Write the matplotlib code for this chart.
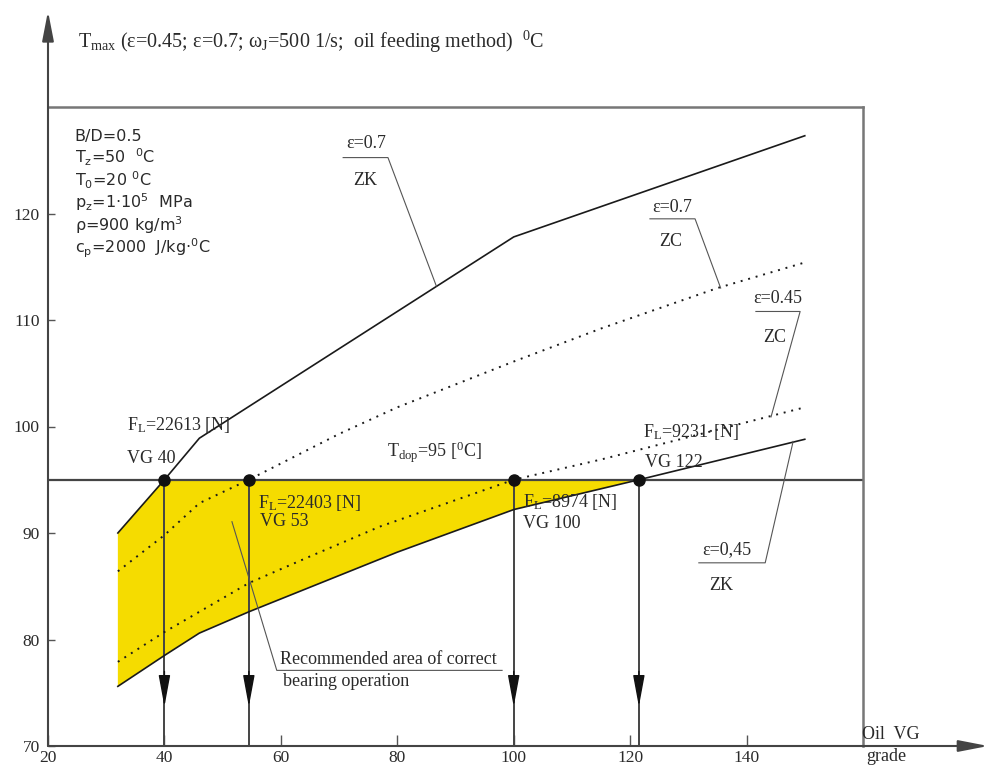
import numpy as np
import matplotlib.pyplot as plt

# oil VG grade where curves cross T_dop, and the allowed temperature
vg_x = [40, 54.5, 100, 121.5]
t_dop = 95

# eps=0.7, ZK (solid)
zk07_x = [32, 40, 46, 60, 80, 100, 120, 140, 150]
zk07_y = [90, 95, 98.9, 103.8, 110.8, 117.8, 121.6, 125.4, 127.3]
# eps=0.7, ZC (dotted)
zc07_x = [32, 40, 46, 54.5, 70, 80, 100, 115, 135, 150]
zc07_y = [86.4, 89.8, 92.8, 95.0, 99.3, 101.8, 106.1, 109.2, 113.0, 115.4]
# eps=0.45, ZC (dotted)
zc045_x = [32, 40, 46, 54.5, 65, 77, 100, 115, 135, 150]
zc045_y = [77.9, 80.7, 82.6, 85.3, 87.8, 90.6, 95.0, 96.9, 99.7, 101.8]
# eps=0.45, ZK (solid)
zk045_x = [32, 40, 46, 54.5, 80, 100, 121.5, 150]
zk045_y = [75.6, 78.5, 80.6, 82.6, 88.2, 92.2, 95.0, 98.8]

x_ticks = [20, 40, 60, 80, 100, 120, 140]
y_ticks = [70, 80, 90, 100, 110, 120]

params = ["B/D=0.5",
          r"T$\mathregular{_z}$=50  $\mathregular{^0}$C",
          r"T$\mathregular{_0}$=20 $\mathregular{^0}$C",
          r"p$\mathregular{_z}$=1·10$\mathregular{^5}$  MPa",
          r"ρ=900 kg/m$\mathregular{^3}$",
          r"c$\mathregular{_p}$=2000  J/kg·$\mathregular{^0}$C"]

serif = 'Liberation Serif'
tc = '#2a2a2a'

fig = plt.figure(figsize=(9.87, 7.67), dpi=100)
ax = fig.add_axes([48/987, 1-746/767, 815/987, 639/767])
ax.set_xlim(20, 160)
ax.set_ylim(70, 130)

# recommended area
zk07_x_a, zk07_y_a = np.array(zk07_x), np.array(zk07_y)
zk045_x_a, zk045_y_a = np.array(zk045_x), np.array(zk045_y)
m1 = zk07_x_a <= vg_x[0]
m2 = zk045_x_a <= vg_x[-1]
poly_x = list(zk07_x_a[m1]) + [vg_x[-1]] + list(zk045_x_a[m2][::-1])
poly_y = list(zk07_y_a[m1]) + [t_dop] + list(zk045_y_a[m2][::-1])
ax.fill(poly_x, poly_y, color='#f5dc00', lw=0, zorder=1)

# curves
ax.plot(zk07_x, zk07_y, color='#1a1a1a', lw=1.2, zorder=3)
ax.plot(zk045_x, zk045_y, color='#1a1a1a', lw=1.2, zorder=3)
ax.plot(zc07_x, zc07_y, color='#1a1a1a', lw=1.4, ls=(0, (1, 3)), zorder=3)
ax.plot(zc045_x, zc045_y, color='#1a1a1a', lw=1.4, ls=(0, (1, 3)), zorder=3)

# T_dop line
ax.axhline(t_dop, color='#444444', lw=1.6, zorder=2)

# vertical arrows from crossing points
for x in vg_x:
    ax.plot([x, x], [t_dop, 70], color='#444444', lw=1.4, zorder=2)
    ax.annotate('', xy=(x, 73.7), xytext=(x, 77),
                arrowprops=dict(arrowstyle='-|>,head_length=1.95,head_width=0.36',
                                color='#111111', lw=1, shrinkA=0, shrinkB=0,
                                mutation_scale=10), zorder=4)
ax.plot(vg_x, [t_dop]*len(vg_x), 'o', color='#111111', ms=8, zorder=5)

# axes with arrows
for s in ['left', 'bottom']:
    ax.spines[s].set_visible(False)
for s in ['top', 'right']:
    ax.spines[s].set_color('#777777')
    ax.spines[s].set_linewidth(1.8)
ax.annotate('', xy=(20, 139), xytext=(20, 70), annotation_clip=False,
            arrowprops=dict(arrowstyle='-|>,head_length=1.8,head_width=0.35',
                            color='#444444', lw=1.5, shrinkA=0, shrinkB=0,
                            mutation_scale=10))
ax.annotate('', xy=(181.5, 70), xytext=(20, 70), annotation_clip=False,
            arrowprops=dict(arrowstyle='-|>,head_length=1.8,head_width=0.35',
                            color='#444444', lw=1.5, shrinkA=0, shrinkB=0,
                            mutation_scale=10))

ax.set_xticks(x_ticks)
ax.set_yticks(y_ticks)
ax.tick_params(axis='x', direction='in', length=8, width=1, color='#555555',
               pad=3, labelsize=12.5, labelcolor=tc)
ax.tick_params(axis='y', direction='in', length=5, width=1, color='#555555',
               pad=6, labelsize=12.5, labelcolor=tc)
for lab in ax.get_xticklabels() + ax.get_yticklabels():
    lab.set_fontfamily(serif)

# title
fig.text(78/987, 1-42/767,
         r"T$\mathregular{_{max}}$ (ε=0.45; ε=0.7; ω$\mathregular{_J}$=500 1/s;  oil feeding method)  $\mathregular{^0}$C",
         fontsize=14.5, family=serif, color=tc, va='center')

# parameter block
for i, line in enumerate(params):
    ax.text(24.6, 126.8 - 2.1*i, line, fontsize=11.5, family='DejaVu Sans',
            color=tc, va='baseline')

# curve labels with leaders
lc = '#555555'
ax.plot([70.7, 78.4, 86.7], [125.25, 125.25, 113.2], color=lc, lw=0.8, zorder=3)
ax.text(74.6, 126.6, "ε=0.7", fontsize=13, family=serif, color=tc, ha='center', va='center')
ax.text(74.5, 123.1, "ZK", fontsize=13, family=serif, color=tc, ha='center', va='center')

ax.plot([123.4, 131.15, 135.55], [119.5, 119.5, 113.0], color=lc, lw=0.8, zorder=3)
ax.text(127.3, 120.6, "ε=0.7", fontsize=13, family=serif, color=tc, ha='center', va='center')
ax.text(126.9, 117.4, "ZC", fontsize=13, family=serif, color=tc, ha='center', va='center')

ax.plot([141.6, 149.2, 144.2], [110.8, 110.8, 100.9], color=lc, lw=0.8, zorder=3)
ax.text(145.4, 112.0, "ε=0.45", fontsize=13, family=serif, color=tc, ha='center', va='center')
ax.text(144.9, 108.4, "ZC", fontsize=13, family=serif, color=tc, ha='center', va='center')

ax.plot([131.8, 143.2, 148.0], [87.2, 87.2, 98.6], color=lc, lw=0.8, zorder=3)
ax.text(136.6, 88.4, "ε=0,45", fontsize=13, family=serif, color=tc, ha='center', va='center')
ax.text(135.6, 85.1, "ZK", fontsize=13, family=serif, color=tc, ha='center', va='center')

ax.plot([51.6, 59.3, 98.0], [91.06, 77.1, 77.1], color=lc, lw=0.8, zorder=3)
ax.text(59.9, 78.1, "Recommended area of correct", fontsize=13, family=serif,
        color=tc, va='center')
ax.text(60.4, 76.1, "bearing operation", fontsize=13, family=serif,
        color=tc, va='center')

# point labels
fl = r"F$\mathregular{_L}$="
ax.text(33.6, 100.1, fl + "22613 [N]", fontsize=13, family=serif, color=tc, va='center')
ax.text(33.6, 97.0, "VG 40", fontsize=13, family=serif, color=tc, va='center')
ax.text(78.2, 97.6, r"T$\mathregular{_{dop}}$=95 [$\mathregular{^0}$C]", fontsize=13,
        family=serif, color=tc, va='center')
ax.text(56.1, 92.8, fl + "22403 [N]", fontsize=13, family=serif, color=tc, va='center', zorder=6)
ax.text(56.4, 91.1, "VG 53", fontsize=13, family=serif, color=tc, va='center', zorder=6)
ax.text(101.6, 92.9, fl + "8974 [N]", fontsize=13, family=serif, color=tc, va='center', zorder=6)
ax.text(101.6, 90.9, "VG 100", fontsize=13, family=serif, color=tc, va='center', zorder=6)
ax.text(122.2, 99.5, fl + "9231·[N]", fontsize=13, family=serif, color=tc, va='center')
ax.text(122.6, 96.6, "VG 122", fontsize=13, family=serif, color=tc, va='center')

# x axis name
ax.text(159.8, 71.1, "Oil  VG", fontsize=13, family=serif, color=tc, va='center')
ax.text(160.5, 69.0, "grade", fontsize=13, family=serif, color=tc, va='center')

fig.savefig('out.png', dpi=100)
